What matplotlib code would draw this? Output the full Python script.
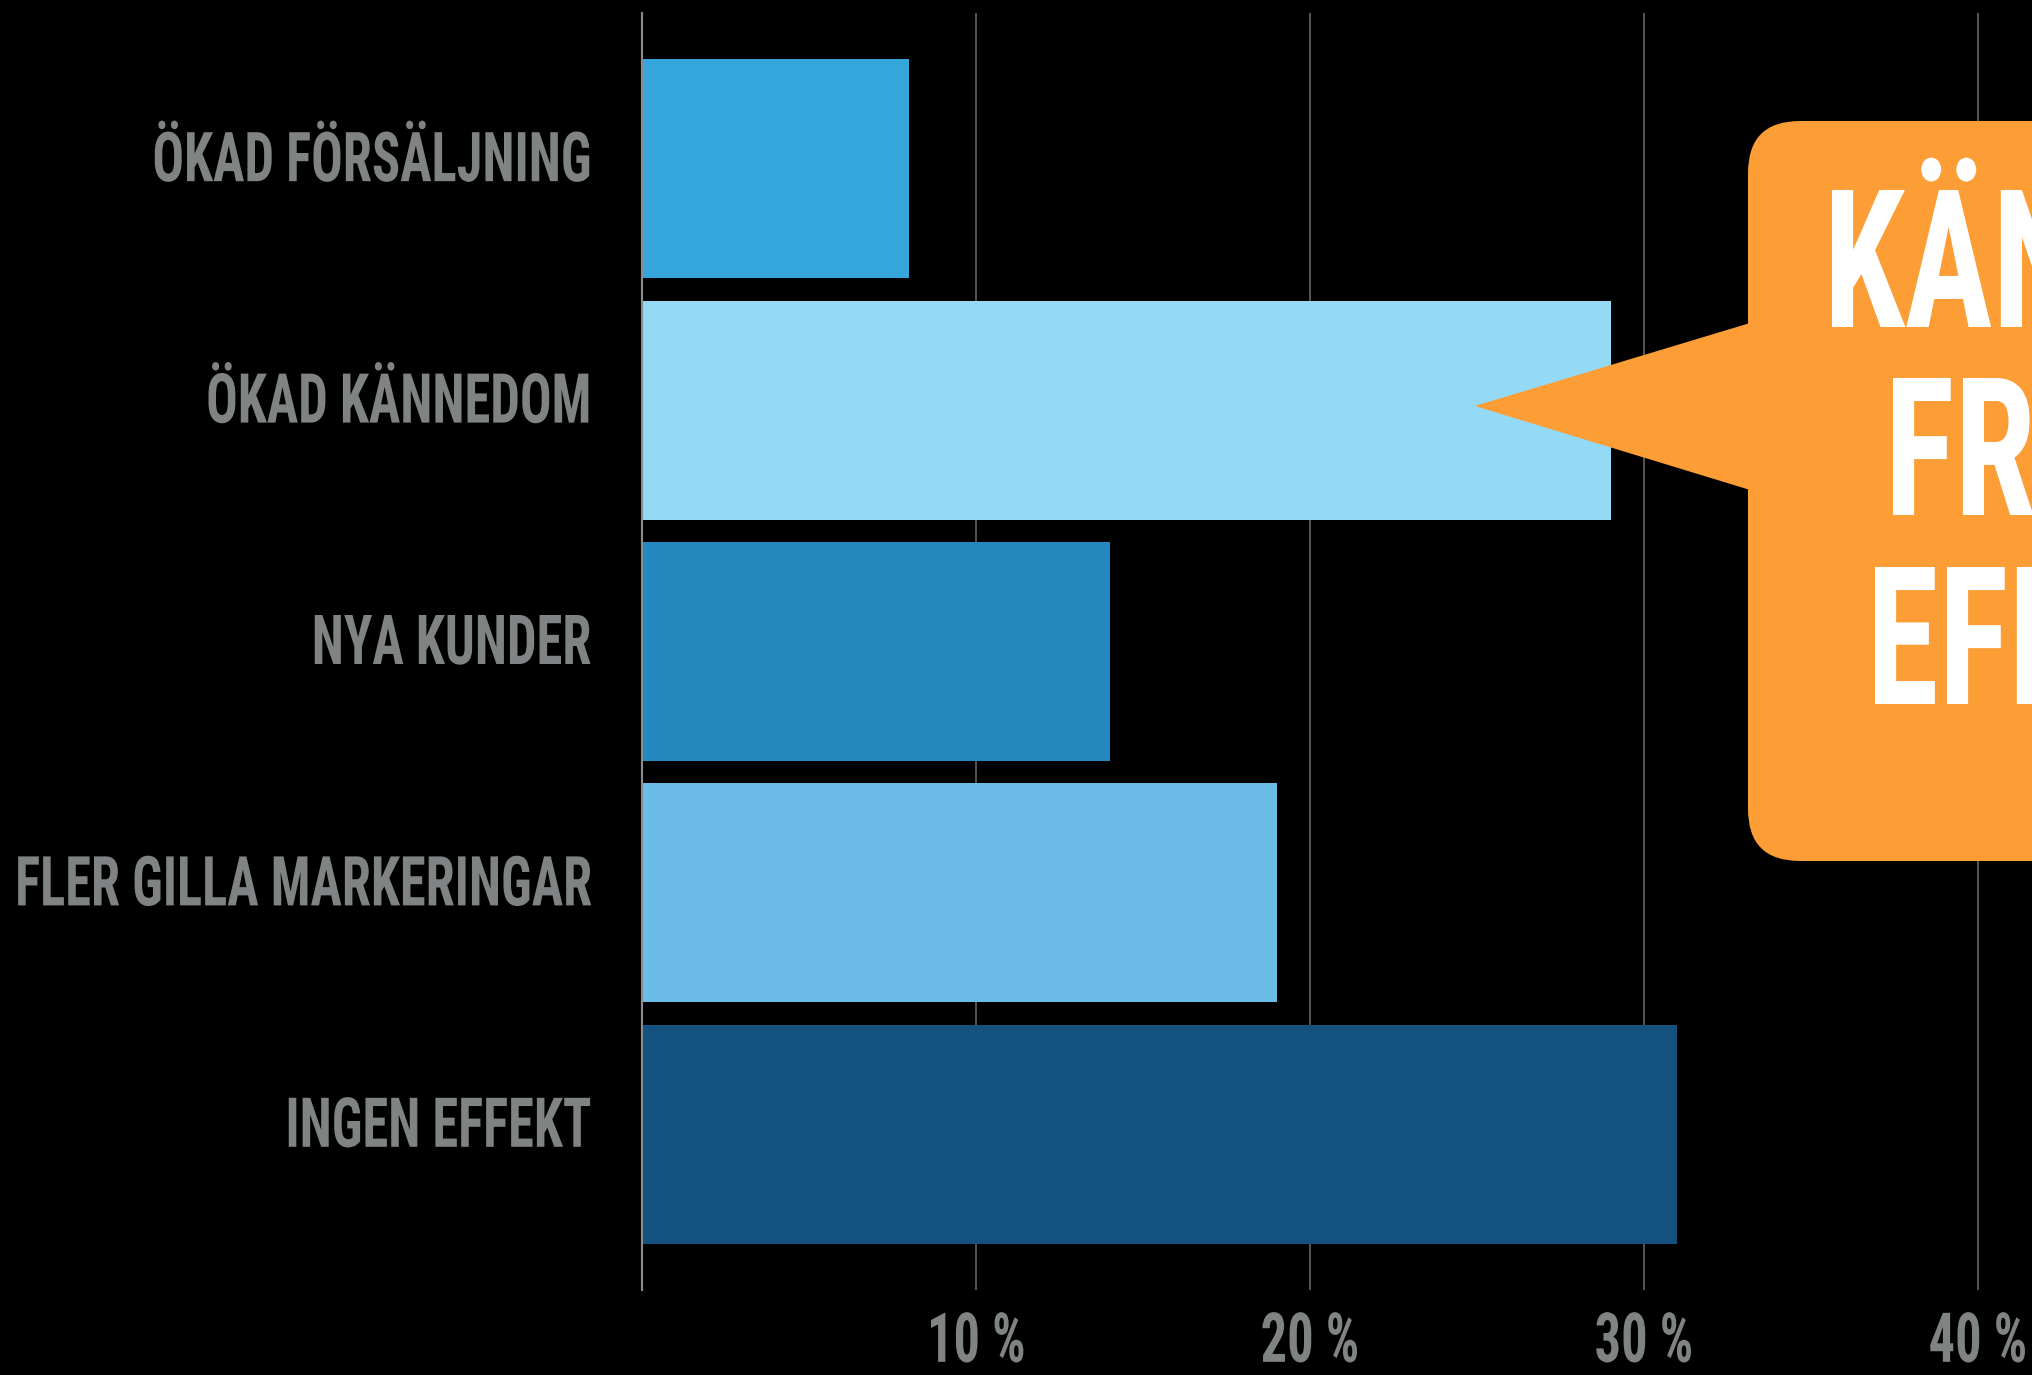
import matplotlib
matplotlib.use('Agg')
import matplotlib.pyplot as plt
from matplotlib import font_manager
from matplotlib.textpath import TextPath
from matplotlib.font_manager import FontProperties
from matplotlib.patheffects import AbstractPathEffect
from matplotlib.transforms import Affine2D, ScaledTranslation
from matplotlib.patches import FancyBboxPatch, Polygon

# ---------------- data ----------------
categories = ['ÖKAD FÖRSÄLJNING', 'ÖKAD KÄNNEDOM', 'NYA KUNDER',
              'FLER GILLA MARKERINGAR', 'INGEN EFFEKT']
values = [8, 29, 14, 19, 31]
bar_colors = ['#35A6DC', '#94D9F5', '#2589C0', '#6CBCE8', '#13527E']
xticks = [10, 20, 30, 40]
xtick_labels = ['10 %', '20 %', '30 %', '40 %']
callout_lines = ['KÄNNEDOM', 'FRÄMSTA', 'EFFEKTEN']

# ---------------- styling ----------------
W, H, DPI = 2033, 1375, 100
GRAY = '#7F8384'
ORANGE = '#FD9D36'
BG = '#000000'

names = {f.name for f in font_manager.fontManager.ttflist}
family = next(n for n in ['Liberation Sans Narrow', 'Roboto Condensed',
                          'Liberation Sans', 'DejaVu Sans'] if n in names)
fp = FontProperties(family=family, weight='bold')
PXPT = DPI / 72.0


def tp_ext(s):
    return TextPath((0, 0), s, size=100, prop=fp).get_extents()


cap_em = tp_ext('H').height / 100.0
label_fs = 49 / (cap_em * PXPT)
callout_fs = 137 / (cap_em * PXPT)
nat_w = tp_ext('FLER GILLA MARKERINGAR').width / 100.0 * label_fs * PXPT
SX = 573.0 / nat_w


class Squeeze(AbstractPathEffect):
    """Horizontally condense glyphs about a point of their ink extent."""

    def __init__(self, sx, frac):
        super().__init__()
        self.sx, self.frac = sx, frac

    def draw_path(self, renderer, gc, tpath, affine, rgbFace=None):
        ext = tpath.get_extents(affine)
        x0 = ext.x0 + self.frac * ext.width
        aff = affine + Affine2D().translate(-x0, 0).scale(self.sx, 1).translate(x0, 0)
        renderer.draw_path(gc, tpath, aff, rgbFace)


fig = plt.figure(figsize=(W / DPI, H / DPI), dpi=DPI, facecolor=BG)
ax_left, ax_bottom, ax_top = 642, 85, 1362
ax = fig.add_axes([ax_left / W, ax_bottom / H, (W - ax_left) / W, (ax_top - ax_bottom) / H])
ax.set_facecolor(BG)

ypos = list(range(len(categories)))
ax.barh(ypos, values, height=0.907, color=bar_colors, zorder=2)
ax.set_xlim(0, (W - ax_left) / 33.4)
ax.set_ylim(len(categories) - 0.355, -0.645)

ax.set_xticks(xticks)
ax.set_xticklabels(xtick_labels)
ax.set_yticks(ypos)
ax.set_yticklabels(categories)
ax.grid(axis='x', color='#555555', linewidth=1.4, zorder=0)
ax.set_axisbelow(True)
for s in ['top', 'right', 'bottom']:
    ax.spines[s].set_visible(False)
ax.spines['left'].set_color('#8C8C8C')
ax.spines['left'].set_linewidth(1.5)
ax.tick_params(axis='both', length=0)
ax.tick_params(axis='y', pad=51 / PXPT)
ax.tick_params(axis='x', pad=15)

up = ScaledTranslation(0, 13 / DPI, fig.dpi_scale_trans)
for t in ax.get_yticklabels():
    t.set_fontproperties(fp)
    t.set_fontsize(label_fs)
    t.set_color(GRAY)
    t.set_transform(t.get_transform() + up)
    t.set_path_effects([Squeeze(SX, 1.0)])
for t in ax.get_xticklabels():
    t.set_fontproperties(fp)
    t.set_fontsize(label_fs)
    t.set_color(GRAY)
    t.set_path_effects([Squeeze(SX, 0.5)])

# ---------------- callout ----------------
T = Affine2D().scale(1.0 / DPI) + fig.dpi_scale_trans
box = FancyBboxPatch((1748, H - 861), 600, 861 - 121,
                     boxstyle='round,pad=0,rounding_size=52',
                     fc=ORANGE, ec='none', transform=T)
fig.add_artist(box)
tri = Polygon([(1475, H - 406), (1760, H - 320), (1760, H - 493)],
              closed=True, fc=ORANGE, ec='none', transform=T)
fig.add_artist(tri)

line_left = [1832, 1893, 1875]
line_base = [327, 515, 704]
for s, xl, yb in zip(callout_lines, line_left, line_base):
    bearing = tp_ext(s[0]).x0 / 100.0 * callout_fs * PXPT
    fig.text(xl - bearing, H - yb, s, transform=T, ha='left', va='baseline',
             fontproperties=fp, fontsize=callout_fs, color='white',
             path_effects=[Squeeze(SX, 0.0)])

fig.savefig('out.png', dpi=DPI, facecolor=BG)
